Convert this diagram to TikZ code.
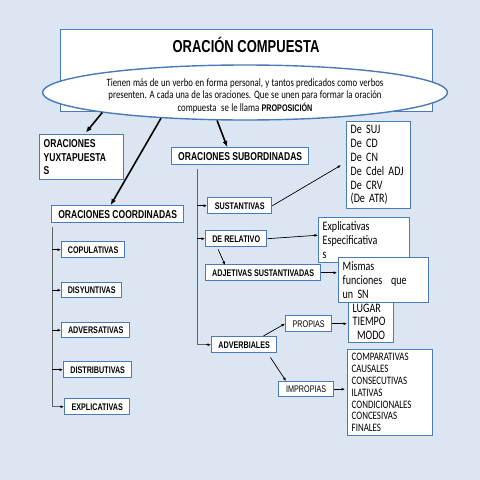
\documentclass[tikz,border=0pt]{standalone}
\usepackage{fontspec}
\usetikzlibrary{shapes.geometric,arrows.meta}
\newfontfamily\narrow[FakeStretch=0.75]{Liberation Sans}
\newfontfamily\calib[FakeStretch=0.78]{Carlito}
\newcommand\listfont{\calib\fontsize{12.9}{13.8}\selectfont\spaceskip 2.4pt\relax}
\newcommand\deffont{\calib\fontsize{11.2}{12.8}\selectfont\spaceskip 2.3pt\relax}
\definecolor{backblue}{RGB}{220,230,242}
\definecolor{boxblue}{RGB}{74,122,184}
\definecolor{linegray}{RGB}{100,100,100}
\tikzset{
	box/.style={draw=boxblue, line width=1.4pt, fill=white, inner sep=0pt, anchor=north west},
	lbl/.style={box, font=\narrow\bfseries\fontsize{9.6}{10}\selectfont},
	biglbl/.style={box, font=\narrow\bfseries\fontsize{11.4}{13.5}\selectfont},
	plainlbl/.style={box, font=\narrow\fontsize{9.6}{10}\selectfont},
	listbox/.style={box, font=\listfont, align=left, inner xsep=4pt},
	bigarrow/.style={-{Latex[length=6pt,width=5pt]}, line width=1.6pt, black},
	tree/.style={linegray, line width=0.8pt},
	smallarrow/.style={-{Latex[length=3.5pt,width=3pt]}, line width=0.7pt, black}
}
\begin{document}
\begin{tikzpicture}[x=1pt,y=-1pt]
			\fill [backblue] (0,0) rectangle (480,480);
			\useasboundingbox (0,0) rectangle (480,480);

			\node [box, minimum width=372, minimum height=82] (comp) at (60,29) {};
			\node [font=\narrow\bfseries\fontsize{17.3}{18}\selectfont] (title) at (246,45) {ORACIÓN COMPUESTA};
			\node [ellipse, draw=boxblue, line width=1.4pt, fill=white, minimum width=405, minimum height=55, inner sep=0pt] (def) at (245,92.5) {};
			\node [font=\deffont, align=center] (deftext) at (245,96) {Tienen más de un verbo en forma personal, y tantos predicados como verbos\\presenten. A cada una de las oraciones. Que se unen para formar la oración\\compuesta\ \ se le llama {\narrow\bfseries\fontsize{9.6}{12.8}\selectfont PROPOSICIÓN}};

			\node [biglbl, minimum width=82, minimum height=45, text width=76, align=left, inner xsep=4pt] (yux) at (39,134) {ORACIONES\\YUXTAPUESTA\\S};
			\node [biglbl, minimum width=132, minimum height=17] (coord) at (51,205) {ORACIONES COORDINADAS};
			\node [biglbl, minimum width=137, minimum height=17] (sub) at (171,147) {ORACIONES SUBORDINADAS};

			\node [lbl, minimum width=63, minimum height=16] (copul) at (61,241) {COPULATIVAS};
			\node [lbl, minimum width=60, minimum height=15] (disy) at (61,282) {DISYUNTIVAS};
			\node [lbl, minimum width=68, minimum height=15] (adver) at (61,322) {ADVERSATIVAS};
			\node [lbl, minimum width=68, minimum height=16] (distr) at (63,361) {DISTRIBUTIVAS};
			\node [lbl, minimum width=65, minimum height=16] (expl) at (64,398) {EXPLICATIVAS};

			\node [lbl, minimum width=64, minimum height=16] (sust) at (207,197) {SUSTANTIVAS};
			\node [lbl, minimum width=61, minimum height=16] (rel) at (205,230) {DE RELATIVO};
			\node [lbl, minimum width=115, minimum height=16] (adjs) at (205,264) {ADJETIVAS SUSTANTIVADAS};
			\node [lbl, minimum width=65, minimum height=16] (advb) at (211,336) {ADVERBIALES};
			\node [plainlbl, minimum width=46, minimum height=16] (prop) at (285,315) {PROPIAS};
			\node [plainlbl, minimum width=55, minimum height=15] (impr) at (278,381) {IMPROPIAS};

			\node [listbox, minimum width=64, minimum height=87, text width=56] (suj) at (346,121) {De SUJ\\De CD\\De CN\\De Cdel ADJ\\De CRV\\(De ATR)};
			\node [listbox, minimum width=91, minimum height=45, text width=83] (expli) at (318,217) {Explicativas\\Especificativa\\s};
			\node [listbox, minimum width=45, minimum height=42, text width=37] (lugar) at (348,300) {LUGAR\\TIEMPO\\\ MODO};
			\node [listbox, minimum width=90, minimum height=45, text width=82] (mismas) at (338,257) {Mismas\\funciones\ \ que\\un SN};
			\node [listbox, font=\calib\fontsize{11.4}{11.8}\selectfont, minimum width=85, minimum height=86, text width=77] (compar) at (347,349) {COMPARATIVAS\\CAUSALES\\CONSECUTIVAS\\ILATIVAS\\CONDICIONALES\\CONCESIVAS\\FINALES};

			\draw [bigarrow, shorten >=2pt] (def.188) -- ([xshift=3pt]yux.north);
			\draw [bigarrow] (def.197) -- ([xshift=-7pt]coord.north);
			\draw [bigarrow] (def.225) -- ([xshift=-13pt]sub.north);

			\coordinate (cstem) at ([xshift=1pt,yshift=-4pt]coord.south west);
			\draw [tree] (cstem) |- ([xshift=-4pt]expl.west);
			\draw [smallarrow] ([xshift=-4pt]expl.west) -- (expl.west);
			\foreach \n in {copul,disy,adver,distr}
				\draw [smallarrow] (\n.west -| cstem) -- (\n.west);

			\coordinate (sstem) at ([xshift=26pt,yshift=-4pt]sub.south west);
			\draw [tree] (sstem) |- ([xshift=-5pt]advb.west);
			\draw [smallarrow] ([xshift=-5pt]advb.west) -- (advb.west);
			\foreach \n in {sust,rel}
				\draw [smallarrow] (\n.west -| sstem) -- (\n.west);

			\draw [smallarrow] (sust.east) -- ([xshift=-5pt]suj.west);
			\draw [smallarrow] (rel.east) -- ([yshift=5pt]expli.west);
			\draw [smallarrow] ([xshift=-18pt,yshift=-2pt]rel.south) -- ([xshift=20pt,yshift=-1pt]adjs.north west);
			\draw [smallarrow, shorten >=1pt] (adjs.east) -- (adjs.east -| mismas.west);
			\draw [smallarrow] ([xshift=-14pt]advb.north east) -- (prop.west);
			\draw [smallarrow, shorten >=1pt] (prop.east) -- (prop.east -| lugar.west);
			\draw [smallarrow] ([xshift=-7pt,yshift=-4pt]advb.south east) -- ([xshift=8pt]impr.north west);
			\draw [smallarrow, shorten >=2pt] (impr.east) -- (impr.east -| compar.west);
\end{tikzpicture}
\end{document}
